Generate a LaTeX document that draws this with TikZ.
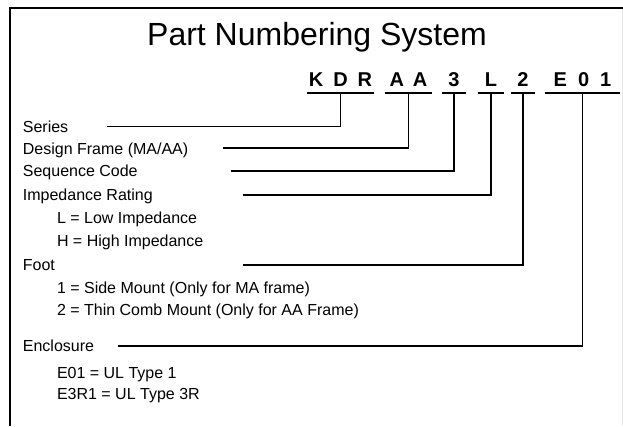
\documentclass[tikz,border=0pt]{standalone}
\usepackage{fontspec}
\setmainfont{Liberation Sans}
\begin{document}
\begin{tikzpicture}[x=1pt,y=-1pt,
  lbl/.style={anchor=base west, inner sep=0pt, font=\fontsize{16}{19}\selectfont},
  codebox/.style={anchor=base, inner sep=0pt, text depth=5.8pt, font=\fontsize{20}{24}\selectfont\bfseries},
  conn/.style={line width=1.8pt, line join=miter},
  uline/.style={line width=2pt},
  framel/.style={line width=2.2pt}]
\useasboundingbox (0,0) rectangle (623,426);
\fill[white] (0,0) rectangle (623,426);
% frame
\draw[framel] (623,7.7) -- (9.7,7.7) -- (9.7,426);
\draw[black!10, line width=1pt] (622.3,8.8) -- (622.3,426);
% title
\node[anchor=base, inner sep=0pt, font=\fontsize{32}{38}\selectfont] (title) at (317,45.5) {Part Numbering System};
% code groups
\node[codebox, minimum width=67pt] (kdr) at (340.5,86.5) {K\hspace{0.5em}D\hspace{0.5em}R};
\node[codebox, minimum width=47pt] (aa) at (408.5,86.5) {A\hspace{0.45em}A};
\node[codebox, minimum width=24pt] (three) at (454,86.5) {3};
\node[codebox, minimum width=26pt] (ll) at (491,86.5) {L};
\node[codebox, minimum width=24pt] (two) at (523,86.5) {2};
\node[codebox, minimum width=75pt] (eo) at (582.5,86.5) {E\hspace{0.55em}0\hspace{0.55em}1};
\foreach \n in {kdr,aa,three,ll,two,eo}
  \draw[uline] (\n.south west) -- (\n.south east);
% labels
\node[lbl] (series) at (22.7,132) {Series};
\node[lbl] (design) at (22.7,154) {Design Frame (MA/AA)};
\node[lbl] (seq) at (22.7,176.8) {Sequence Code};
\node[lbl] (imp) at (22.7,200.5) {Impedance Rating};
\node[lbl] (low) at (56.8,223.5) {L = Low Impedance};
\node[lbl] (high) at (56.8,246.3) {H = High Impedance};
\node[lbl] (foot) at (22.7,270.5) {Foot};
\node[lbl] (side) at (56.8,293.3) {1 = Side Mount (Only for MA frame)};
\node[lbl] (thin) at (56.8,315.8) {2 = Thin Comb Mount (Only for AA Frame)};
\node[lbl] (encl) at (22.7,351.5) {Enclosure};
\node[lbl] (e01) at (56.8,378.3) {E01 = UL Type 1};
\node[lbl] (e3r1) at (56.8,399.5) {E3R1 = UL Type 3R};
% connector start points
\coordinate (cs) at (107,126.5);
\coordinate (cd) at (222.7,148.2);
\coordinate (cq) at (231,171);
\coordinate (ci) at (242.7,195);
\coordinate (cf) at (242.7,265);
\coordinate (ce) at (118,346);
\draw[conn] (cs) -| (kdr.south);
\draw[conn] (cd) -| (aa.south);
\draw[conn] (cq) -| (three.south);
\draw[conn] (ci) -| (ll.south);
\draw[conn] (cf) -| (two.south);
\draw[conn] (ce) -| (eo.south);
\end{tikzpicture}
\end{document}
